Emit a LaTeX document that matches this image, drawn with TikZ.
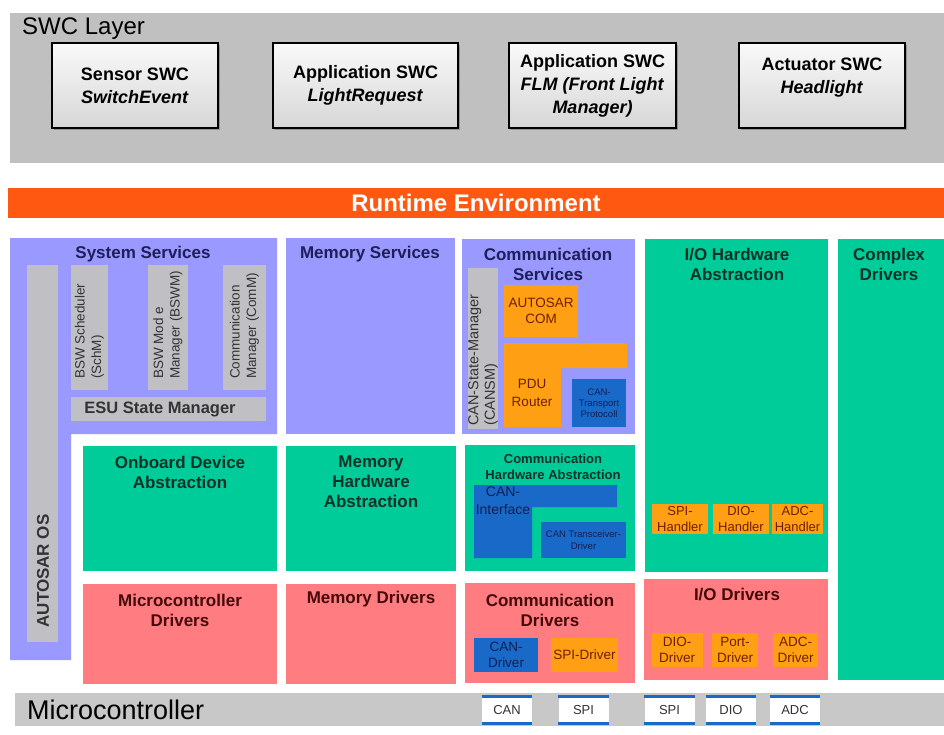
\documentclass[tikz,border=0pt]{standalone}
\usepackage{fontspec}
\setmainfont{Liberation Sans}
\usetikzlibrary{shadows}

\definecolor{swcgray}{RGB}{192,192,192}
\definecolor{rteorange}{RGB}{255,88,16}
\definecolor{bswlav}{RGB}{153,153,255}
\definecolor{modgray}{RGB}{192,192,196}
\definecolor{habgreen}{RGB}{0,204,153}
\definecolor{drvred}{RGB}{255,124,128}
\definecolor{modorange}{RGB}{255,160,20}
\definecolor{modblue}{RGB}{25,105,200}
\definecolor{mcugray}{RGB}{200,200,200}
\definecolor{lavtext}{RGB}{30,30,90}
\definecolor{greentext}{RGB}{15,50,40}
\definecolor{redtext}{RGB}{70,10,10}
\definecolor{orangetext}{RGB}{110,30,0}
\definecolor{bluetext}{RGB}{20,30,80}

\newcommand{\fsz}[2]{\fontsize{#1}{#2}\selectfont}

\tikzset{
  grptitle/.style={font=\fsz{17}{20}\bfseries, align=center, inner sep=0pt},
  swcbox/.style={draw=black, line width=1.2pt, top color=gray!4, bottom color=gray!32,
    drop shadow={shadow xshift=2pt, shadow yshift=-2pt, fill=black!60}, inner sep=0pt},
  swctext/.style={font=\fsz{18}{23}\bfseries, align=center, inner sep=0pt},
  vertext/.style={rotate=90, anchor=west, align=left, inner sep=0pt, font=\fsz{13.5}{16.5}, text=black!80},
  orangebox/.style={fill=modorange, inner sep=0pt, align=center, text=orangetext},
  bluebox/.style={fill=modblue, inner sep=0pt, align=center, text=bluetext},
  portbox/.style={fill=white, minimum width=50pt, minimum height=27pt, inner sep=0pt, font=\fsz{13}{15}, text=black!80},
  portbar/.style={draw=modblue, line width=3.5pt},
}

\begin{document}
\begin{tikzpicture}[x=1pt,y=-1pt]
\useasboundingbox (0,0) rectangle (944,734);
\fill[white] (0,0) rectangle (944,734);

% SWC layer
\fill[swcgray] (10,13) rectangle (944,163);
\node[anchor=west, inner sep=0pt, font=\fsz{24}{28}] (swclayer) at (22,29) {SWC Layer};
\node[swcbox, swctext, minimum width=166pt, minimum height=85pt] (sensor) at (135,85.5) {Sensor SWC\\\textit{SwitchEvent}};
\node[swcbox, swctext, minimum width=185pt, minimum height=85pt] (lightreq) at (365.5,85.5) {Application SWC\\\textit{LightRequest}};
\node[swcbox, swctext, minimum width=167pt, minimum height=85pt] (flm) at (592.5,85.5) {Application SWC\\\textit{FLM (Front Light}\\\textit{Manager)}};
\node[swcbox, minimum width=166pt, minimum height=85pt] (actuator) at (822,85.5) {};
\node[swctext] (headlight) at (822,78) {Actuator SWC\\\textit{Headlight}};

% RTE
\fill[rteorange] (8,188) rectangle (944,218);
\node[font=\fsz{24}{28}\bfseries, text=white, inner sep=0pt] (rte) at (476,203) {Runtime Environment};

% services
\fill[bswlav] (10,238) -- (277,238) -- (277,434) -- (71,434) -- (71,660) -- (10,660) -- cycle;
\node[grptitle, text=lavtext] (syssrv) at (143,254) {System Services};
\fill[modgray] (27,265) rectangle (58,642);
\node[vertext, anchor=center, font=\fsz{17}{20}\bfseries] (os) at (43,571) {AUTOSAR OS};
\fill[modgray] (71,265) rectangle (108,390);
\node[vertext] (schm) at (89.5,379) {BSW Scheduler\\(SchM)};
\fill[modgray] (148,265) rectangle (188,390);
\node[vertext] (bswm) at (168,379) {BSW Mod e\\Manager (BSWM)};
\fill[modgray] (223,265) rectangle (266,390);
\node[vertext] (comm) at (244.5,379) {Communication\\Manager (ComM)};
\fill[modgray] (71,397) rectangle (266,421);
\node[font=\fsz{16.5}{19}\bfseries, text=black!80, inner sep=0pt] (esu) at (160,409) {ESU State Manager};

\fill[bswlav] (286,238) rectangle (455,434);
\node[grptitle, text=lavtext] (memsrv) at (370,254) {Memory Services};

\fill[bswlav] (462,239) rectangle (635,434);
\node[grptitle, text=lavtext] (comsrv) at (548,264) {Communication\\Services};
\fill[modgray] (468,268) rectangle (498,429);
\node[vertext, font=\fsz{14.5}{16.5}] (cansm) at (483,426) {CAN-State-Manager\\(CANSM)};
\node[orangebox, minimum width=74pt, minimum height=52pt, font=\fsz{13.5}{16}] (com) at (541,311) {AUTOSAR\\COM};
\fill[modorange] (504,343) -- (627,343) -- (627,368) -- (561,368) -- (561,427) -- (504,427) -- cycle;
\node[font=\fsz{13.5}{18}, text=orangetext, align=center, inner sep=0pt] (pdur) at (532,393) {PDU\\Router};
\node[bluebox, minimum width=54pt, minimum height=48pt, font=\fsz{9.5}{11}] (cantp) at (599,403) {CAN-\\Transport\\Protocoll};

\fill[habgreen] (645,239) rectangle (828,572);
\node[grptitle, text=greentext] (iohwab) at (737,264) {I/O Hardware\\Abstraction};
\node[orangebox, minimum width=56pt, minimum height=30pt, font=\fsz{13}{15.5}] (spih) at (680,519) {SPI-\\Handler};
\node[orangebox, minimum width=56pt, minimum height=30pt, font=\fsz{13}{15.5}] (dioh) at (741,519) {DIO-\\Handler};
\node[orangebox, minimum width=51pt, minimum height=30pt, font=\fsz{13}{15.5}] (adch) at (797.5,519) {ADC-\\Handler};

\fill[habgreen] (838,239) rectangle (944,680);
\node[grptitle, text=greentext] (cdd) at (889,264) {Complex\\Drivers};

% ECU abstraction
\fill[habgreen] (83,446) rectangle (277,571);
\node[grptitle, text=greentext] (onboard) at (180,472) {Onboard Device\\Abstraction};
\fill[habgreen] (286,446) rectangle (456,571);
\node[grptitle, text=greentext] (memhwab) at (371,482) {Memory\\Hardware\\Abstraction};
\fill[habgreen] (465,445) rectangle (635,571);
\node[grptitle, font=\fsz{13}{16}\bfseries, text=greentext] (comhwab) at (553,467) {Communication\\Hardware Abstraction};
\fill[modblue] (474,485) -- (617,485) -- (617,507) -- (532,507) -- (532,558) -- (474,558) -- cycle;
\node[font=\fsz{14}{18}, text=bluetext, align=center, inner sep=0pt] (canif) at (503,501) {CAN-\\Interface};
\node[bluebox, minimum width=85pt, minimum height=36pt, font=\fsz{9.5}{12}] (cantrcv) at (583.5,540) {CAN Transceiver-\\Driver};

% drivers
\fill[drvred] (83,584) rectangle (277,684);
\node[grptitle, text=redtext] (mcaldrv) at (180,610) {Microcontroller\\Drivers};
\fill[drvred] (286,584) rectangle (456,684);
\node[grptitle, text=redtext] (memdrv) at (371,599) {Memory Drivers};
\fill[drvred] (465,583) rectangle (635,683);
\node[grptitle, text=redtext] (comdrv) at (550,610) {Communication\\Drivers};
\node[bluebox, minimum width=64pt, minimum height=34pt, font=\fsz{13.5}{16}] (candrv) at (506,655) {CAN-\\Driver};
\node[orangebox, minimum width=67pt, minimum height=34pt, font=\fsz{13.5}{16}] (spidrv) at (584.5,655) {SPI-Driver};
\fill[drvred] (644,579) rectangle (828,680);
\node[grptitle, text=redtext] (iodrv) at (737,594) {I/O Drivers};
\node[orangebox, minimum width=52pt, minimum height=34pt, font=\fsz{13.5}{16}] (diodrv) at (677,650) {DIO-\\Driver};
\node[orangebox, minimum width=46pt, minimum height=34pt, font=\fsz{13.5}{16}] (portdrv) at (735,650) {Port-\\Driver};
\node[orangebox, minimum width=45pt, minimum height=34pt, font=\fsz{13.5}{16}] (adcdrv) at (795.5,650) {ADC-\\Driver};

% microcontroller
\fill[mcugray] (15,693) rectangle (944,726);
\node[anchor=west, inner sep=0pt, font=\fsz{27}{30}] (mcu) at (27,710) {Microcontroller};
\node[portbox] (pcan) at (507,710) {CAN};
\node[portbox] (pspia) at (583.5,710) {SPI};
\node[portbox] (pspib) at (669.5,710) {SPI};
\node[portbox] (pdio) at (731,710) {DIO};
\node[portbox] (padc) at (795,710) {ADC};
\draw[portbar] (pcan.north west) -- (pcan.north east) (pcan.south west) -- (pcan.south east);
\draw[portbar] (pspia.north west) -- (pspia.north east) (pspia.south west) -- (pspia.south east);
\draw[portbar] (pspib.north west) -- (pspib.north east) (pspib.south west) -- (pspib.south east);
\draw[portbar] (pdio.north west) -- (pdio.north east) (pdio.south west) -- (pdio.south east);
\draw[portbar] (padc.north west) -- (padc.north east) (padc.south west) -- (padc.south east);
\end{tikzpicture}
\end{document}
